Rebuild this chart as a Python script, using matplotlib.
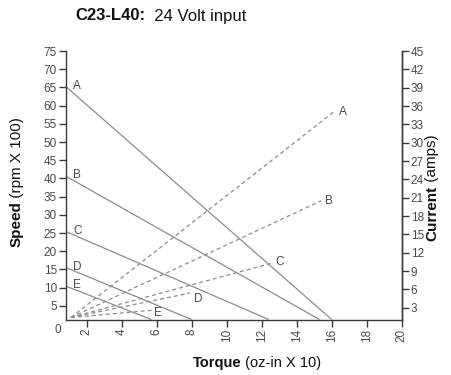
import matplotlib
matplotlib.use("Agg")
import matplotlib.pyplot as plt
import numpy as np

# ---- data ----
motors = ['A', 'B', 'C', 'D', 'E']
no_load_speed = [65.2, 40.6, 25.4, 15.5, 10.4]      # rpm x 100 at left axis
stall_torque = [16.0, 15.3, 12.4, 8.0, 5.7]          # oz-in x 10
stall_current = [35.0, 20.5, 10.3, 5.4, 2.6]         # amps
current_end_torque = [16.1, 15.4, 12.6, 7.9, 5.8]
speed_start_torque = 0.82
speed_floor = 1.25
current_start_torque = 1.1
current_start = 1.4

x_ticks = list(range(2, 21, 2))
speed_ticks = list(range(5, 76, 5))
current_ticks = list(range(3, 46, 3))

W, H = 451, 375
plt.rcParams['font.family'] = ['Liberation Sans', 'DejaVu Sans']
fig = plt.figure(figsize=(W / 100, H / 100), dpi=100)
L, R, T, B = 66, 401.7, 51, 319.5
ax = fig.add_axes([L / W, 1 - B / H, (R - L) / W, (B - T) / H])
ax2 = ax.twinx()

line_c = '#8c8c8c'
spine_c = '#3a3a3a'
text_c = '#4a4a4a'

for m, s0, st in zip(motors, no_load_speed, stall_torque):
    ax.plot([speed_start_torque, st], [s0, speed_floor], color=line_c, lw=0.9,
            solid_capstyle='butt', clip_on=False)
    ax.annotate(m, (speed_start_torque, s0), xytext=(7, 1), textcoords='offset pixels',
                ha='left', va='center', fontsize=8.5, color=text_c)

lab_off = {'A': (9, 0), 'B': (8, 0), 'C': (7, 1), 'D': (8, -6), 'E': (5, -3)}
for m, ct, ci in zip(motors, current_end_torque, stall_current):
    ax2.plot([current_start_torque, ct], [current_start, ci], color=line_c, lw=0.9,
             linestyle=(0, (3.2, 2.4)), clip_on=False)
    ax2.annotate(m, (ct, ci), xytext=lab_off[m], textcoords='offset pixels',
                 ha='center', va='center', fontsize=8.5, color=text_c)

ax.set_xlim(speed_start_torque, 20)
ax.set_ylim(speed_floor, 75)
ax2.set_ylim(1.07, 45)
ax.set_xticks(x_ticks)
ax.set_yticks(speed_ticks)
ax2.set_yticks(current_ticks)
ax.set_xticklabels([str(v) for v in x_ticks], rotation=90)

for a in (ax, ax2):
    for sp in a.spines.values():
        sp.set_color(spine_c)
        sp.set_linewidth(1.0)
    a.spines['top'].set_visible(False)
    a.tick_params(colors=spine_c, labelcolor=text_c, labelsize=8.5, length=5, width=1.0, pad=1.5)
ax2.spines['left'].set_visible(False)
ax2.spines['bottom'].set_visible(False)

fig.text(58 / W, 1 - 330 / H, '0', ha='center', va='center', fontsize=8.5, color=text_c)

renderer = fig.canvas.get_renderer()


def mixed(x_px, y_px, parts, size, rotation=0):
    widths = []
    for s, w in parts:
        t = fig.text(0, 0, s, fontsize=size, fontweight=w)
        widths.append(t.get_window_extent(renderer).width)
        t.remove()
    total = sum(widths)
    pos = -total / 2
    for (s, w), wd in zip(parts, widths):
        if rotation == 0:
            xx, yy = x_px + pos, y_px
        else:
            xx, yy = x_px, y_px - pos  # y_px is image coord (down)
        fig.text(xx / W, 1 - yy / H, s, fontsize=size, fontweight=w, color='#111111',
                 ha='left', va='center', rotation=rotation, rotation_mode='anchor')
        pos += wd


mixed(161, 16, [('C23-L40:', 'bold'), ('  24 Volt input', 'normal')], 12)
mixed(257, 363, [('Torque', 'bold'), (' (oz-in X 10)', 'normal')], 10.5)
mixed(17, 182, [('Speed', 'bold'), (' (rpm X 100)', 'normal')], 11, rotation=90)
mixed(432, 188, [('Current', 'bold'), (' (amps)', 'normal')], 11, rotation=90)

fig.savefig('out.png', dpi=100)
